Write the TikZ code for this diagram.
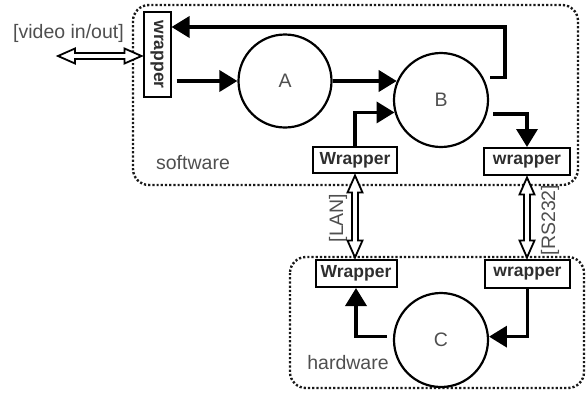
\documentclass[tikz,border=0pt]{standalone}
\usepackage{fontspec}
\setmainfont{Liberation Sans}
\usetikzlibrary{arrows.meta,calc}
\definecolor{txtgray}{HTML}{4F4F4F}
\definecolor{boxtxt}{HTML}{2E2E2E}
\newcommand\lblfont{\fontsize{19.5}{22}\selectfont}
\newcommand\wrapfont{\fontsize{17.5}{20}\selectfont\bfseries}
\tikzset{
  region/.style={draw=black!90, line width=2.4pt, dash pattern=on 2.2pt off 2pt, rounded corners=16pt},
  circ/.style={circle, draw, line width=2.2pt, minimum size=93pt, inner sep=0pt, font=\lblfont, text=txtgray},
  wrapbox/.style={draw, line width=2pt, inner sep=0pt, font=\wrapfont, text=boxtxt},
  thickarrow/.style={line width=3.6pt, -{Triangle[length=18pt,width=21pt]}},
  lbl/.style={font=\lblfont, text=txtgray, inner sep=0pt},
  hollow/.style={draw, line width=1.8pt, fill=white, line join=miter}
}
\newcommand\hollowV[2]{%
  \draw[hollow] let \p1=(#1), \p2=(#2) in
    (\x1,\y1) -- (\x1+7.5pt,\y1-17pt) -- (\x1+3pt,\y1-17pt) -- (\x1+3pt,\y2+17pt)
    -- (\x1+7.5pt,\y2+17pt) -- (\x1,\y2) -- (\x1-7.5pt,\y2+17pt) -- (\x1-3pt,\y2+17pt)
    -- (\x1-3pt,\y1-17pt) -- (\x1-7.5pt,\y1-17pt) -- cycle;}
\newcommand\hollowH[2]{%
  \draw[hollow] let \p1=(#1), \p2=(#2) in
    (\x1,\y1) -- (\x1+17pt,\y1+7.5pt) -- (\x1+17pt,\y1+3pt) -- (\x2-17pt,\y1+3pt)
    -- (\x2-17pt,\y1+7.5pt) -- (\x2,\y1) -- (\x2-17pt,\y1-7.5pt) -- (\x2-17pt,\y1-3pt)
    -- (\x1+17pt,\y1-3pt) -- (\x1+17pt,\y1-7.5pt) -- cycle;}
\begin{document}
\begin{tikzpicture}[x=1pt,y=-1pt]
\useasboundingbox (0,0) rectangle (586,392);
% regions
\draw[region] (133,5) rectangle (578,185);
\draw[region] (290,257) rectangle (584,388);
% nodes
\node[wrapbox, minimum width=27pt, minimum height=85pt] (wl) at (157,54.5) {\rotatebox{-90}{wrapper}};
\node[circ] (A) at (285,81) {A};
\node[circ, minimum size=94pt] (B) at (441,100) {B};
\node[circ, minimum size=94pt] (C) at (441,340) {C};
\node[wrapbox, minimum width=84pt, minimum height=26pt] (ws1) at (355,160) {Wrapper};
\node[wrapbox, minimum width=86pt, minimum height=27pt] (ws2) at (527,161.5) {wrapper};
\node[wrapbox, minimum width=81pt, minimum height=27pt] (hw1) at (356,273.5) {Wrapper};
\node[wrapbox, minimum width=85pt, minimum height=28pt] (hw2) at (527.5,274) {wrapper};
% labels
\node[lbl] (vid) at (68.5,33) {[video in/out]};
\node[lbl] (sw) at (193,163) {software};
\node[lbl] (hw) at (348,363) {hardware};
\node[lbl, rotate=90] (lan) at (338,218) {[LAN]};
\node[lbl, rotate=90] (rs) at (550,220) {[RS232]};
% helper coordinates
\coordinate (vidend) at (58,56);
\coordinate (fbtop) at (505,27);
% thick arrows
\draw[thickarrow] ([xshift=5pt]wl.east |- A.west) -- (A.west);
\draw[thickarrow] (A.east) -- (A.east -| B.157);
\draw[thickarrow] (ws1.north) |- (B.195);
\draw[thickarrow] ([xshift=7pt]B.28) -| (fbtop) -- (fbtop -| wl.east);
\draw[thickarrow] ([xshift=6pt]B.-17) -| (ws2.north);
\draw[thickarrow] ([xshift=-6pt]C.176) -| (hw1.south);
\draw[thickarrow] (hw2.south) |- (C.4);
% hollow double arrows
\hollowH{vidend}{[xshift=-1pt]wl.west |- vidend}
\hollowV{[yshift=-1.5pt]ws1.south}{[yshift=1.5pt]ws1.south |- hw1.north}
\hollowV{[yshift=-1.5pt]ws2.south}{[yshift=1.5pt]ws2.south |- hw2.north}
\end{tikzpicture}
\end{document}
